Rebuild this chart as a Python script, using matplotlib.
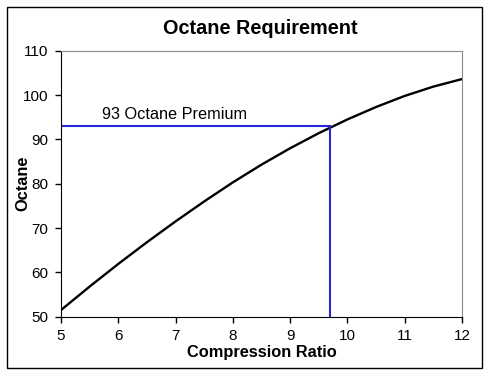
import matplotlib
matplotlib.use("Agg")
import matplotlib.pyplot as plt
from matplotlib.patches import Rectangle

plt.rcParams['font.family'] = ['Liberation Sans', 'DejaVu Sans']

# compression ratio vs required octane
ratio = [5.0, 5.5, 6.0, 6.5, 7.0, 7.5, 8.0, 8.5, 9.0, 9.5, 10.0, 10.5, 11.0, 11.5, 12.0]
octane = [51.5, 56.8, 61.9, 66.8, 71.5, 76.0, 80.3, 84.3, 88.0, 91.4, 94.5, 97.3, 99.8, 101.9, 103.6]

premium_octane = 93
premium_ratio = 9.7
xticks = [5, 6, 7, 8, 9, 10, 11, 12]
yticks = [50, 60, 70, 80, 90, 100, 110]

fig = plt.figure(figsize=(4.9, 3.76), dpi=100)
W, H = 490, 376

# outer frame
fig.patches.append(Rectangle((7 / W, 1 - 368 / H), 475 / W, 361 / H,
                             transform=fig.transFigure, fill=False,
                             edgecolor='black', linewidth=1.0))

ax = fig.add_axes([61 / W, 1 - 316.7 / H, 401 / W, 266 / H])

ax.plot(ratio, octane, color='black', linewidth=1.7)

# premium guide lines
blue = '#2626d2'
ax.plot([xticks[0], premium_ratio], [premium_octane, premium_octane], color=blue, linewidth=1.5)
ax.plot([premium_ratio, premium_ratio], [yticks[0], premium_octane], color=blue, linewidth=1.5)
ax.text(5.71, 94.6, '93 Octane Premium', fontsize=11.7, va='baseline', ha='left')

ax.set_xlim(5, 12)
ax.set_ylim(50, 110)
ax.set_xticks(xticks)
ax.set_yticks(yticks)
ax.tick_params(direction='out', length=4, width=1, labelsize=11, pad=5)

for s in ['top', 'right']:
    ax.spines[s].set_color('#8c8c8c')
for s in ['left', 'bottom']:
    ax.spines[s].set_color('black')

fig.text(260 / W, 1 - 28 / H, 'Octane Requirement', fontsize=14.3, fontweight='bold',
         ha='center', va='center')
fig.text(262 / W, 1 - 353 / H, 'Compression Ratio', fontsize=11.8, fontweight='bold',
         ha='center', va='center')
fig.text(23 / W, 1 - 183 / H, 'Octane', fontsize=11.8, fontweight='bold',
         ha='center', va='center', rotation=90)

plt.savefig('out.png', dpi=100)
